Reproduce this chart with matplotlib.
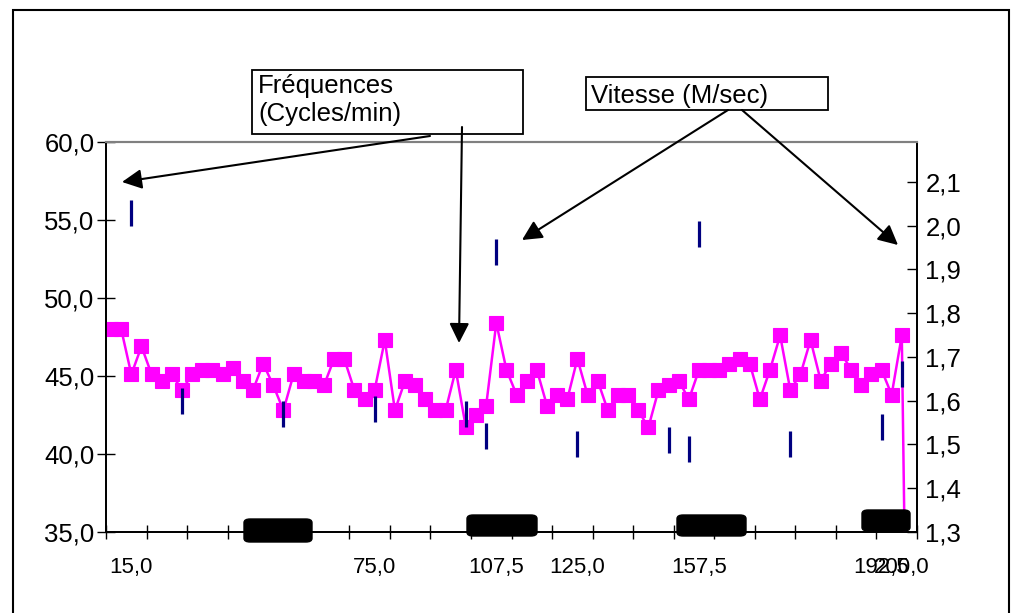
import matplotlib.pyplot as plt
from matplotlib.patches import FancyBboxPatch, Rectangle
from matplotlib.ticker import FuncFormatter

W, H = 1018, 613

# Fréquences (cycles/min), one value per category
freq = [48.0, 48.0, 45.1, 46.9, 45.1, 44.7, 45.1, 44.1, 45.1, 45.4,
        45.4, 45.1, 45.5, 44.7, 44.1, 45.8, 44.4, 42.8, 45.1, 44.7,
        44.7, 44.4, 46.1, 46.1, 44.1, 43.5, 44.1, 47.3, 42.8, 44.7,
        44.4, 43.5, 42.8, 42.8, 45.4, 41.7, 42.5, 43.1, 48.4, 45.4,
        43.8, 44.7, 45.4, 43.1, 43.8, 43.5, 46.1, 43.8, 44.7, 42.8,
        43.8, 43.8, 42.8, 41.7, 44.1, 44.4, 44.7, 43.5, 45.4, 45.4,
        45.4, 45.8, 46.1, 45.8, 43.5, 45.4, 47.6, 44.1, 45.1, 47.3,
        44.7, 45.8, 46.5, 45.4, 44.4, 45.1, 45.4, 43.8, 47.6, 0.0]

# Vitesse (M/sec), only at some categories
vit_idx = [2, 7, 17, 26, 35, 37, 38, 46, 55, 57, 58, 67, 76, 78]
vit = [2.03, 1.60, 1.57, 1.58, 1.57, 1.52, 1.94, 1.50, 1.51, 1.49, 1.98, 1.50, 1.54, 1.66]

# x labels
lab_idx = [2, 26, 38, 46, 58, 76, 78]
lab_txt = ['15,0', '75,0', '107,5', '125,0', '157,5', '192,5', '200,0']

plt.rcParams['font.family'] = ['Liberation Sans', 'DejaVu Sans']


def fx(x, y):
    return x / W, 1 - y / H


fig = plt.figure(figsize=(W / 100, H / 100), dpi=100)
ax = fig.add_axes([106 / W, 1 - 532 / H, (917 - 106) / W, (532 - 142) / H])
ax2 = ax.twinx()

n = len(freq)
ax.plot(range(n), freq, color='#FF00FF', lw=1.8, marker='s', ms=10,
        mfc='#FF00FF', mec='#FF00FF', mew=0.8, zorder=3)
ax2.plot(vit_idx, vit, ls='none', marker='|', ms=18.5, mew=2.3,
         color='#000080', zorder=3)

ax.set_xlim(-0.5, n - 0.5)
ax.set_ylim(35, 60)
ax.set_yticks(range(35, 61, 5))
ax.yaxis.set_major_formatter(FuncFormatter(lambda v, p: f'{v:.1f}'.replace('.', ',')))
ax2.set_ylim(1.3, 1.3 + 390 / 437.5)
ax2.set_yticks([1.3 + 0.1 * k for k in range(9)])
ax2.yaxis.set_major_formatter(FuncFormatter(lambda v, p: f'{v:.1f}'.replace('.', ',')))

ax.set_xticks(lab_idx)
ax.set_xticklabels(lab_txt)
ax.set_xticks([-0.5 + 4 * k for k in range(n // 4 + 1)], minor=True)
ax.tick_params(axis='x', which='major', length=0, pad=18, labelsize=16)
ax.tick_params(axis='x', which='minor', direction='inout', length=9.5, width=1)
ax.tick_params(axis='y', direction='inout', length=12.5, width=1, pad=2, labelsize=18.5)
ax2.tick_params(axis='y', direction='in', length=7.5, width=1, pad=6, labelsize=18.5)

for a in (ax, ax2):
    a.spines['top'].set_color('#808080')
    a.spines['top'].set_linewidth(1.5)
    for s in ('left', 'right', 'bottom'):
        a.spines[s].set_linewidth(1.3)

# black rounded blocks on the time axis
blocks = [(244, 519, 312, 542), (467, 515, 537, 536), (677, 515, 746, 536), (862, 510, 910, 531)]
for x0, y0, x1, y1 in blocks:
    p = FancyBboxPatch(fx(x0, y1), (x1 - x0) / W, (y1 - y0) / H,
                       boxstyle='round,pad=0,rounding_size=0.006',
                       transform=fig.transFigure, fc='black', ec='black', zorder=5)
    fig.patches.append(p)

# text boxes
fig.patches.append(Rectangle(fx(252, 134), 271 / W, 64 / H, transform=fig.transFigure,
                             fill=False, ec='black', lw=1.3))
fig.text(*fx(258, 74), 'Fréquences\n(Cycles/min)', fontsize=18.5, va='top', ha='left',
         linespacing=1.2)
fig.patches.append(Rectangle(fx(586, 110), 242 / W, 33 / H, transform=fig.transFigure,
                             fill=False, ec='black', lw=1.3))
fig.text(*fx(591, 96), 'Vitesse (M/sec)', fontsize=18.5, va='center', ha='left')

# arrows
arrows = [((430, 136), (122, 182)), ((462, 127), (459, 343)),
          ((728, 110), (522, 240)), ((742, 110), (898, 245))]
for (xs, ys), (xe, ye) in arrows:
    fig.add_artist(plt.Annotation('', xy=fx(xe, ye), xytext=fx(xs, ys),
                                  xycoords='figure fraction', textcoords='figure fraction',
                                  arrowprops=dict(arrowstyle='-|>', color='black', lw=1.5,
                                                  mutation_scale=30, shrinkA=0, shrinkB=0)))

# outer frame
fig.patches.append(Rectangle(fx(13, 640), (1009 - 13) / W, 630 / H, transform=fig.transFigure,
                             fill=False, ec='black', lw=1.5))

fig.savefig('out.png', dpi=100)
